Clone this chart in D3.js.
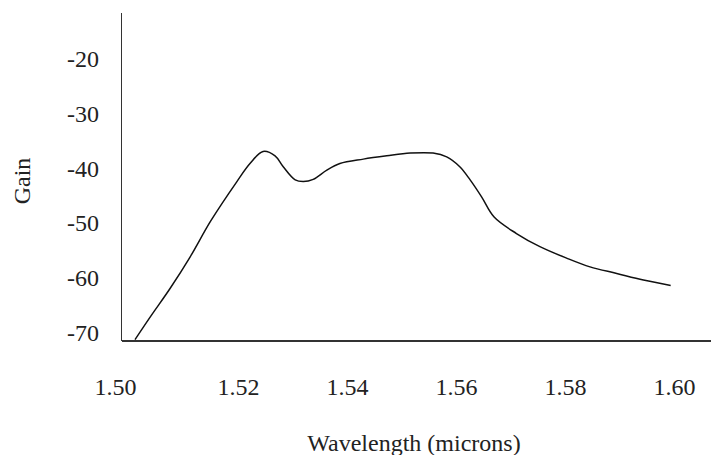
<!DOCTYPE html>
<html>
<head>
<meta charset="utf-8">
<script src="https://cdn.jsdelivr.net/npm/d3@7"></script>
<style>
  html, body { margin: 0; padding: 0; background: #fff; }
  svg { display: block; }
  .axis text { font-family: "Liberation Serif", "Times New Roman", serif; font-size: 24px; fill: #222; }
  .axis path { stroke: #333; stroke-width: 1.6; }
  .title { font-family: "Liberation Serif", "Times New Roman", serif; font-size: 24px; fill: #222; }
</style>
</head>
<body>
<svg id="chart"></svg>
<script>
const W = 711;
const H = 455;

// data (wavelength in microns, gain)
const wavelength = [1.5011, 1.5040, 1.5075, 1.5112, 1.5150, 1.5198, 1.5222,
  1.5246, 1.5268, 1.5283, 1.5305, 1.5320, 1.5338, 1.5363, 1.5387, 1.5430,
  1.5473, 1.5516, 1.5558, 1.5583, 1.5607, 1.5626, 1.5647, 1.5670, 1.5711,
  1.5754, 1.5803, 1.5846, 1.5895, 1.5944, 1.5994];
const gain = [-71.3, -67.0, -62.0, -56.2, -49.6, -42.4, -39.1,
  -36.9, -37.7, -39.7, -42.1, -42.4, -42.0, -40.3, -39.1, -38.3,
  -37.7, -37.2, -37.2, -37.9, -39.7, -42.1, -45.2, -48.9, -51.9,
  -54.3, -56.4, -58.0, -59.2, -60.4, -61.4];

const xTicks = [1.50, 1.52, 1.54, 1.56, 1.58, 1.60];
const yTicks = [-20, -30, -40, -50, -60, -70];

const margin = { left: 121, right: 0, top: 12, bottom: 114.5 };

const svg = d3.select("#chart")
  .attr("width", W)
  .attr("height", H);

const x = d3.scaleLinear()
  .domain([1.49853, 1.6068])
  .range([margin.left, W - margin.right]);

const y = d3.scaleLinear()
  .domain([-71.46, -11.4])
  .range([H - margin.bottom, margin.top]);

// clip so the curve stops at the x axis
svg.append("clipPath").attr("id", "plotClip")
  .append("rect")
  .attr("x", margin.left)
  .attr("y", margin.top)
  .attr("width", W - margin.left - margin.right)
  .attr("height", H - margin.top - margin.bottom);

// x axis
const gx = svg.append("g")
  .attr("class", "axis")
  .attr("transform", `translate(0,${H - margin.bottom})`)
  .call(d3.axisBottom(x)
    .tickValues(xTicks)
    .tickFormat(d3.format(".2f"))
    .tickSize(0)
    .tickSizeOuter(0)
    .tickPadding(37));
// first label sits a bit left in the original
gx.selectAll(".tick text").filter(d => d === 1.50).attr("dx", -14);

// y axis (plain hyphen like the original)
svg.append("g")
  .attr("class", "axis")
  .attr("transform", `translate(${margin.left},0)`)
  .call(d3.axisLeft(y)
    .tickValues(yTicks)
    .tickFormat(d => String(d))
    .tickSize(0)
    .tickSizeOuter(0)
    .tickPadding(22));

svg.selectAll(".axis .domain").attr("shape-rendering", "crispEdges");

// gain curve
const pts = wavelength.map((w, i) => [w, gain[i]]);
const line = d3.line()
  .x(d => x(d[0]))
  .y(d => y(d[1]))
  .curve(d3.curveCatmullRom.alpha(0.5));

svg.append("path")
  .datum(pts)
  .attr("clip-path", "url(#plotClip)")
  .attr("fill", "none")
  .attr("stroke", "#111")
  .attr("stroke-width", 1.5)
  .attr("d", line);

// axis titles
svg.append("text")
  .attr("class", "title")
  .attr("x", 414)
  .attr("y", 443)
  .attr("dy", "0.35em")
  .attr("text-anchor", "middle")
  .text("Wavelength (microns)");

svg.append("text")
  .attr("class", "title")
  .attr("transform", "translate(22,181) rotate(-90)")
  .attr("dy", "0.35em")
  .attr("text-anchor", "middle")
  .text("Gain");
</script>
</body>
</html>
